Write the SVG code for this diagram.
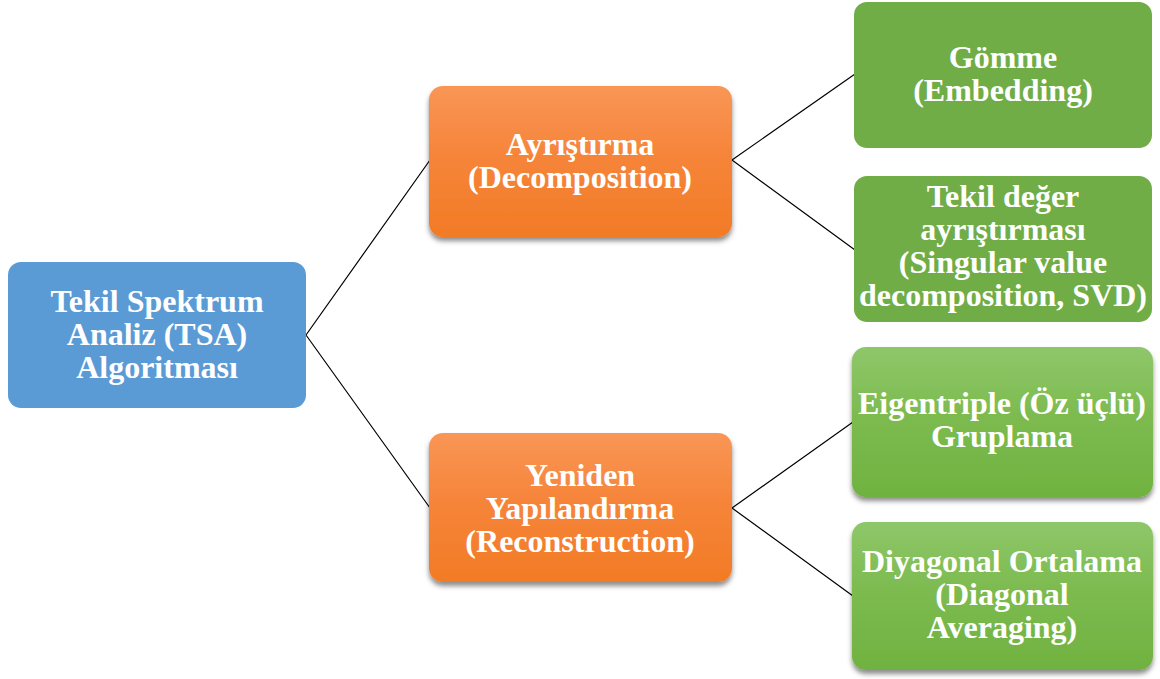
<svg xmlns="http://www.w3.org/2000/svg" width="1160" height="679" viewBox="0 0 1160 679">
<defs>
<linearGradient id="gOr" x1="0" y1="0" x2="0" y2="1">
<stop offset="0" stop-color="#F99656"/>
<stop offset="0.45" stop-color="#F6853A"/>
<stop offset="1" stop-color="#F27B26"/>
</linearGradient>
<linearGradient id="gGr" x1="0" y1="0" x2="0" y2="1">
<stop offset="0" stop-color="#8EC76A"/>
<stop offset="0.45" stop-color="#7DBB50"/>
<stop offset="1" stop-color="#70B240"/>
</linearGradient>
<filter id="sh" x="-10%" y="-10%" width="120%" height="130%">
<feDropShadow dx="0" dy="4" stdDeviation="2.5" flood-color="#000" flood-opacity="0.45"/>
</filter>
</defs>
<style>
.t{font-family:"Liberation Serif","Times New Roman",serif;font-weight:bold;font-size:32px;fill:#fff;text-anchor:middle}
.c{stroke:#000;stroke-width:1.2;fill:none}
.blue{fill:#5B9BD5}
.flat{fill:#70AD47}
.or{fill:url(#gOr);filter:url(#sh)}
.gr{fill:url(#gGr);filter:url(#sh)}
</style>
<g id="connectors">
<path class="c" d="M306,335 L430,160 M306,335 L430,508"/>
<path class="c" d="M732,160 L855,74 M732,160 L855,250"/>
<path class="c" d="M732,508 L853,422 M732,508 L853,596"/>
</g>
<g id="n-tsa">
<rect class="blue" x="8" y="262" width="298" height="146" rx="13"/>
<text class="t" x="157" y="312">Tekil Spektrum</text>
<text class="t" x="157" y="345">Analiz (TSA)</text>
<text class="t" x="157" y="378">Algoritması</text>
</g>
<g id="n-decomp">
<rect class="or" x="429" y="86" width="303" height="151" rx="14"/>
<text class="t" x="580" y="155">Ayrıştırma</text>
<text class="t" x="580" y="188">(Decomposition)</text>
</g>
<g id="n-recon">
<rect class="or" x="429" y="433" width="303" height="149" rx="14"/>
<text class="t" x="580" y="486">Yeniden</text>
<text class="t" x="580" y="519">Yapılandırma</text>
<text class="t" x="580" y="552">(Reconstruction)</text>
</g>
<g id="n-embed">
<rect class="flat" x="854" y="2" width="298" height="146" rx="13"/>
<text class="t" x="1003" y="68">Gömme</text>
<text class="t" x="1003" y="101">(Embedding)</text>
</g>
<g id="n-svd">
<rect class="flat" x="854" y="176" width="298" height="146" rx="13"/>
<text class="t" x="1003" y="207">Tekil değer</text>
<text class="t" x="1003" y="240">ayrıştırması</text>
<text class="t" x="1003" y="273">(Singular value</text>
<text class="t" x="1003" y="306">decomposition, SVD)</text>
</g>
<g id="n-group">
<rect class="gr" x="852" y="347" width="301" height="150" rx="14"/>
<text class="t" x="1002" y="414">Eigentriple (Öz üçlü)</text>
<text class="t" x="1002" y="447">Gruplama</text>
</g>
<g id="n-diag">
<rect class="gr" x="852" y="522" width="301" height="148" rx="14"/>
<text class="t" x="1002" y="572">Diyagonal Ortalama</text>
<text class="t" x="1002" y="605">(Diagonal</text>
<text class="t" x="1002" y="638">Averaging)</text>
</g>
</svg>
